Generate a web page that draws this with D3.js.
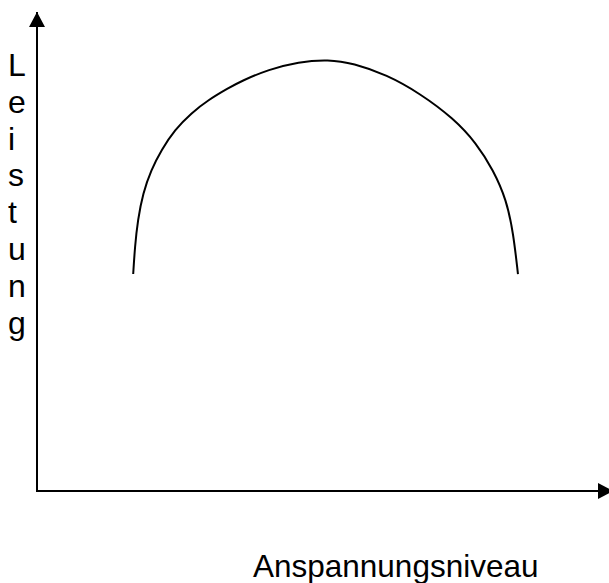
<!DOCTYPE html>
<html>
<head>
<meta charset="utf-8">
<script src="https://cdn.jsdelivr.net/npm/d3@7"></script>
<style>
  body { margin: 0; background: #fff; }
  svg { display: block; }
  text { font-family: "Liberation Sans", Arial, sans-serif; fill: #000; }
</style>
</head>
<body>
<script>
// curve points (Anspannung 0-100, Leistung 0-100)
var anspannung = [16.7, 17.0, 17.5, 18.4, 19.8, 21.6, 23.9, 26.8, 29.7, 33.2, 35.5, 40.2, 45.4, 50.6,
                  54.9, 60.7, 66.5, 72.3, 76.3, 79.2, 81.5, 82.7, 83.5];
var leistung   = [45.3, 51.0, 56.6, 62.2, 67.0, 71.2, 75.4, 78.9, 81.6, 84.1, 85.6, 88.0, 89.6, 90.1,
                  89.3, 86.9, 83.0, 77.8, 72.6, 67.0, 60.8, 53.8, 45.3];

var yLabel = "Leistung";
var xLabel = "Anspannungsniveau";

var width = 609, height = 583;

var svg = d3.select("body").append("svg")
    .attr("width", width)
    .attr("height", height);

// axis scales
var x = d3.scaleLinear().domain([0, 100]).range([37, 613]);
var y = d3.scaleLinear().domain([0, 100]).range([491, 12]);

// arrow heads
var defs = svg.append("defs");
defs.append("marker")
    .attr("id", "arrow")
    .attr("viewBox", "0 0 15 16")
    .attr("refX", 15)
    .attr("refY", 8)
    .attr("markerWidth", 15)
    .attr("markerHeight", 16)
    .attr("markerUnits", "userSpaceOnUse")
    .attr("orient", "auto")
  .append("path")
    .attr("d", "M0,0L15,8L0,16Z")
    .attr("fill", "#000");

// y axis
svg.append("line")
    .attr("x1", x(0)).attr("y1", y(0))
    .attr("x2", x(0)).attr("y2", y(100))
    .attr("stroke", "#000")
    .attr("stroke-width", 2)
    .attr("marker-end", "url(#arrow)");

// x axis
svg.append("line")
    .attr("x1", x(0) - 1).attr("y1", y(0))
    .attr("x2", x(100)).attr("y2", y(0))
    .attr("stroke", "#000")
    .attr("stroke-width", 2)
    .attr("marker-end", "url(#arrow)");

// the curve
var pts = anspannung.map(function(a, i) { return [a, leistung[i]]; });

var line = d3.line()
    .x(function(d) { return x(d[0]); })
    .y(function(d) { return y(d[1]); })
    .curve(d3.curveBasis);

svg.append("path")
    .datum(pts)
    .attr("d", line)
    .attr("fill", "none")
    .attr("stroke", "#000")
    .attr("stroke-width", 2);

// y label, one letter per line
svg.append("g").selectAll("text")
    .data(yLabel.split(""))
  .enter().append("text")
    .attr("x", 8)
    .attr("y", function(d, i) { return 76 + i * 36.8; })
    .style("font-size", "32px")
    .text(function(d) { return d; });

// x label
svg.append("text")
    .attr("x", 253)
    .attr("y", 577)
    .style("font-size", "31.5px")
    .text(xLabel);
</script>
</body>
</html>
